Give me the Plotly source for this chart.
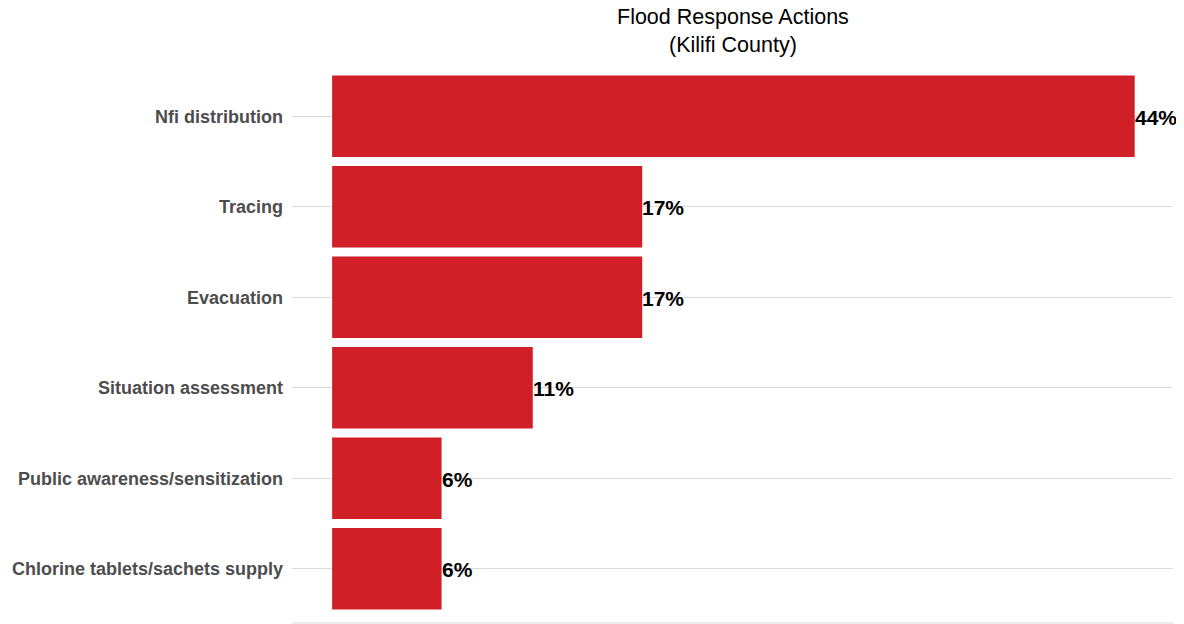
import plotly.graph_objects as go

categories = ["Nfi distribution", "Tracing", "Evacuation", "Situation assessment",
              "Public awareness/sensitization", "Chlorine tablets/sachets supply"]
values = [44, 17, 17, 11, 6, 6]
labels = [f"{v}%" for v in values]
title_text = "Flood Response Actions<br>(Kilifi County)"

# page body has an 8px margin, so the figure sits at (8, 8)
W, H = 1176, 616
L, R, T, B = 284, 11, 54, 1
plot_h = H - T - B

fig = go.Figure(go.Bar(
    x=values, y=categories, orientation="h",
    marker=dict(color="#D01F27", line=dict(width=0)),
    width=0.9,
    hoverinfo="x+y",
))

for v, c, t in zip(values, categories, labels):
    fig.add_annotation(x=v, y=c, xref="x", yref="y", text=t, showarrow=False,
                       xanchor="left", yanchor="middle", xshift=-2, yshift=-1,
                       font=dict(family="Liberation Sans, Arial", size=21,
                                 color="black", weight="bold"))

# title as a centred two-line annotation above the plot area
fig.add_annotation(x=0.5, y=1 + 31 / plot_h, xref="paper", yref="paper",
                   text=title_text, showarrow=False, xanchor="center", yanchor="middle",
                   font=dict(family="Liberation Sans, Arial", size=21.5, color="black"))

fig.update_layout(
    width=W, height=H,
    margin=dict(l=L, r=R, t=T, b=B, autoexpand=False),
    paper_bgcolor="white", plot_bgcolor="white",
    showlegend=False,
    xaxis=dict(range=[-2.2, 46.1], showgrid=False, zeroline=False,
               showticklabels=False, ticks=""),
    yaxis=dict(range=[5.6, -0.6], showgrid=True, gridcolor="#D9D9D9", gridwidth=1,
               ticks="", ticklabelstandoff=8,
               tickfont=dict(family="Liberation Sans, Arial", size=18, color="#4D4D4D", weight="bold")),
    bargap=0.1,
)
fig.add_shape(type="line", xref="paper", yref="paper", x0=0, x1=1, y0=0, y1=0,
              line=dict(color="#D9D9D9", width=1))

fig.write_html("out.html")
